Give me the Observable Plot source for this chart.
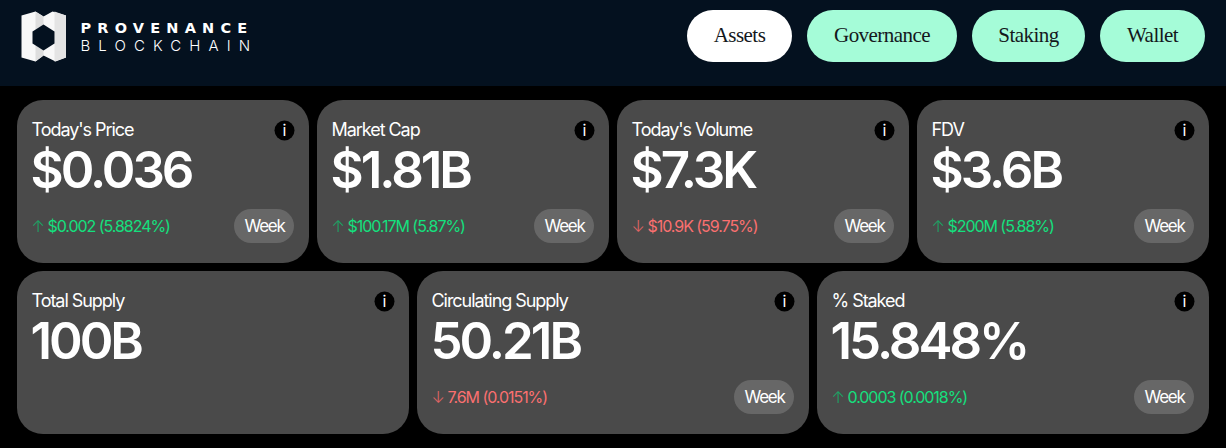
<!DOCTYPE html>
<html>
<head>
<meta charset="utf-8">
<script src="https://cdn.jsdelivr.net/npm/d3@7"></script>
<script src="https://cdn.jsdelivr.net/npm/@observablehq/plot@0.6"></script>
<style>
html, body { margin: 0; padding: 0; background: #000; overflow: hidden; }
svg { display: block; }
.tight-label text { letter-spacing: -1.05px; }
.tight-week text { letter-spacing: -1.3px; }
.tight-value text { letter-spacing: -3px; }
.tight-delta text { letter-spacing: -1.05px; }
.tight-nav text { letter-spacing: -0.55px; }
.brand1 text { letter-spacing: 6.2px; }
.brand2 text { letter-spacing: 8.1px; }
</style>
</head>
<body>
<div id="chart"></div>
<script>
// data
const navItems = ["Assets", "Governance", "Staking", "Wallet"];
const brandLines = ["PROVENANCE", "BLOCKCHAIN"];
const cardLabels = ["Today's Price", "Market Cap", "Today's Volume", "FDV", "Total Supply", "Circulating Supply", "% Staked"];
const cardValues = ["$0.036", "$1.81B", "$7.3K", "$3.6B", "100B", "50.21B", "15.848%"];
const cardDeltas = ["$0.002 (5.8824%)", "$100.17M (5.87%)", "$10.9K (59.75%)", "$200M (5.88%)", null, "7.6M (0.0151%)", "0.0003 (0.0018%)"];
const cardDirections = ["up", "up", "down", "up", null, "down", "up"];
const periodLabel = "Week";

// layout, in page pixels
const W = 1226, H = 448;
const headerH = 86;
const navLeft = [687, 807, 972, 1100];
const navWidth = [105, 150, 113, 105];
const rowCounts = [4, 3];
const rowTop = [100, 271];
const cardH = 163, pageX = 17, gap = 8;

const cards = cardLabels.map((label, i) => {
  const row = i < rowCounts[0] ? 0 : 1;
  const col = row == 0 ? i : i - rowCounts[0];
  const n = rowCounts[row];
  const w = (W - 2 * pageX - (n - 1) * gap) / n;
  const x = pageX + col * (w + gap);
  const y = rowTop[row];
  return {label, value: cardValues[i], delta: cardDeltas[i], dir: cardDirections[i], x, y, w};
});
const withDelta = cards.filter(d => d.delta);
const nav = navItems.map((name, i) => ({name, x: navLeft[i], w: navWidth[i], active: i == 0}));

// logo outline, page pixels
const logoOuter = [[21,15],[35,11],[43,16],[52,11],[65.5,15],[65.5,57],[55,61],[43,55],[35,61],[21,57]];
const logoHex = [[43,24],[54,31],[54,43],[43,50],[32,43],[32,31]];
const logoShadeTop = [[35,11],[43,16],[43,24],[35,29]];
const logoShadeBottom = [[35,45],[43,50],[43,55],[35,61]];
const logoShadeRight = [[54,11],[65.5,15],[65.5,57],[54,61]];

const sans = "Inter, 'Noto Sans', sans-serif";
const serif = "'Liberation Serif', serif";

const logoPart = (points, fill) => Plot.line(points, {x: d => d[0], y: d => d[1], fill, stroke: "none", curve: "linear-closed"});

const chart = Plot.plot({
  width: W,
  height: H,
  margin: 0,
  x: {type: "linear", domain: [0, W], range: [0, W], axis: null},
  y: {type: "linear", domain: [0, H], range: [0, H], axis: null},
  style: {background: "#000", fontFamily: sans},
  marks: [
    // header band
    Plot.rect([0], {x1: 0, x2: W, y1: 0, y2: headerH, fill: "#04111f"}),

    // logo
    logoPart(logoOuter, "#f8f8f8"),
    logoPart(logoShadeTop, "#dedede"),
    logoPart(logoShadeBottom, "#dedede"),
    logoPart(logoShadeRight, "#e4e4e4"),
    logoPart(logoHex, "#04111f"),
    Plot.text([brandLines[0]], {text: d => d, x: 80, y: 27.5, textAnchor: "start", fontFamily: "'DejaVu Sans', sans-serif", fontWeight: 700, fontSize: 14.5, fill: "#fff", className: "brand1"}),
    Plot.text([brandLines[1]], {text: d => d, x: 80, y: 45.5, textAnchor: "start", fontFamily: sans, fontWeight: 300, fontSize: 15, fill: "#fff", className: "brand2"}),

    // nav pills
    Plot.rect(nav, {x1: "x", x2: d => d.x + d.w, y1: 10, y2: 62, rx: 26, fill: d => d.active ? "#ffffff" : "#a5fcd8"}),
    Plot.text(nav, {x: d => d.x + d.w / 2 - 0.5, y: 35, text: "name", fontFamily: serif, fontSize: 21, fill: "#14181c", className: "tight-nav"}),

    // cards
    Plot.rect(cards, {x1: "x", x2: d => d.x + d.w, y1: "y", y2: d => d.y + cardH, rx: 26, fill: "#4a4a4a"}),
    Plot.text(cards, {x: d => d.x + 14, y: d => d.y + 30, text: "label", textAnchor: "start", fontSize: 18, fontWeight: 400, fill: "#fff", className: "tight-label"}),
    Plot.text(cards, {x: d => d.x + 13, y: d => d.y + 71, text: "value", textAnchor: "start", fontSize: 51, fontWeight: 600, fill: "#fff", className: "tight-value"}),

    // info icons
    Plot.dot(cards, {x: d => d.x + d.w - 25, y: d => d.y + 30, r: 10, fill: "#000", stroke: "none"}),
    Plot.text(cards, {x: d => d.x + d.w - 25, y: d => d.y + 30, text: () => "i", fontSize: 16, fill: "#fff"}),

    // deltas
    Plot.text(withDelta, {x: d => d.x + 14, y: d => d.y + 126, text: d => d.dir == "up" ? "↑" : "↓", textAnchor: "start", fontSize: 16, fontFamily: sans, fontWeight: 300, fill: d => d.dir == "up" ? "#1aa565" : "#e06565"}),
    Plot.text(withDelta, {x: d => d.x + 30, y: d => d.y + 126, text: "delta", textAnchor: "start", fontSize: 16, fill: d => d.dir == "up" ? "#14e07e" : "#fb7070", className: "tight-delta"}),

    // week pills
    Plot.rect(withDelta, {x1: d => d.x + d.w - 75, x2: d => d.x + d.w - 15, y1: d => d.y + 109, y2: d => d.y + 143, rx: 17, fill: "#676767"}),
    Plot.text(withDelta, {x: d => d.x + d.w - 45, y: d => d.y + 126, text: () => periodLabel, fontSize: 17, fill: "#fff", className: "tight-week"})
  ]
});

d3.select("#chart").append(() => chart);
</script>
</body>
</html>
